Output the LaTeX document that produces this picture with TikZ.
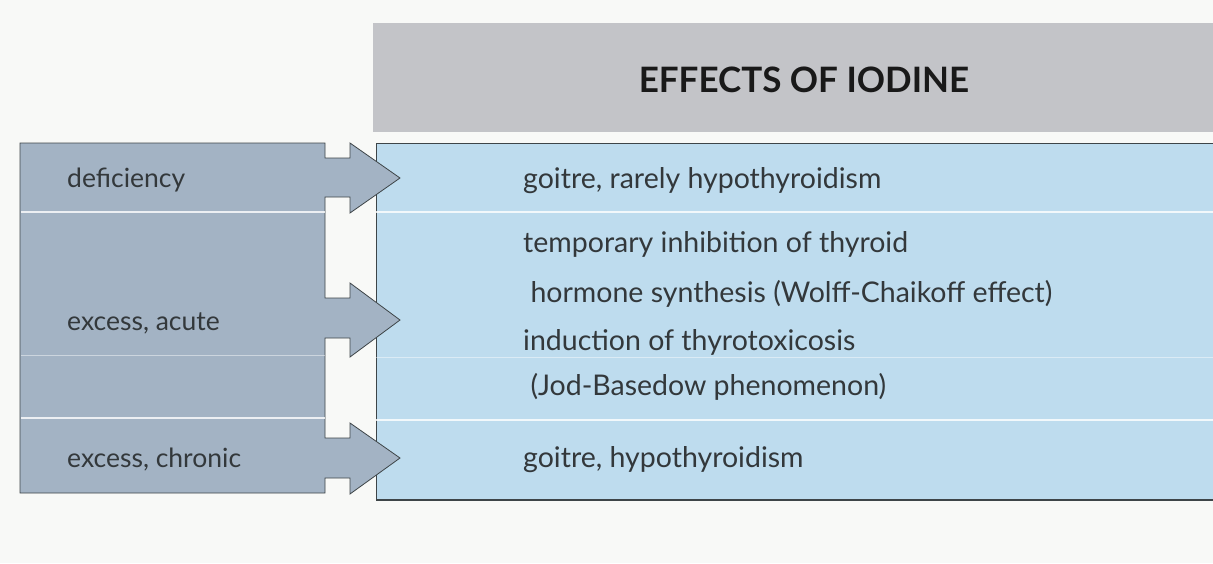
\documentclass[tikz,border=0pt]{standalone}
\usepackage{fontspec}
\setmainfont{Lato}
\definecolor{bgc}{HTML}{F8F9F7}
\definecolor{leftc}{HTML}{A3B3C4}
\definecolor{headc}{HTML}{C3C4C8}
\definecolor{bluec}{HTML}{BEDCEE}
\definecolor{edgec}{HTML}{3E4548}
\definecolor{txtc}{HTML}{33383B}
\tikzset{
  lbl/.style={anchor=base west, inner sep=0pt, text=txtc, font=\fontsize{26.5}{32}\selectfont},
  eff/.style={anchor=base west, inner sep=0pt, text=txtc, font=\fontsize{28.5}{34}\selectfont},
  divider/.style={draw=white, line width=2pt, opacity=0.8},
  fdivider/.style={draw=white, line width=1pt, opacity=0.45},
}
\begin{document}
\begin{tikzpicture}[x=1pt,y=-1pt]
\useasboundingbox (0,0) rectangle (1213,563);
\fill[bgc] (0,0) rectangle (1213,563);
% header
\fill[headc] (373,23) rectangle (1213,132);
\node[inner sep=0pt, text=black!90, font=\fontsize{35}{40}\selectfont\bfseries] (title) at (804,80) {EFFECTS OF IODINE};
% blue box
\fill[bluec] (376,143) rectangle (1213,500);
\draw[edgec, line width=1pt] (1213,143) -- (376,143) -- (376,500);
\draw[edgec, line width=2pt] (376,500) -- (1213,500);
\draw[divider] (376,212) -- (1213,212);
\draw[fdivider] (376,357) -- (1213,357);
\draw[divider] (376,420) -- (1213,420);
% left box with arrows
\coordinate (a1) at (400,178);
\coordinate (a2) at (400,320);
\coordinate (a3) at (400,458);
\filldraw[fill=leftc, draw=edgec, line width=0.8pt, line join=miter]
  (20,143) -- (325,143) -- (325,158) -- (350,158) -- (350,143) -- (a1) -- (350,213) -- (350,197) -- (325,197)
  -- (325,298) -- (350,298) -- (350,283) -- (a2) -- (350,357) -- (350,338) -- (325,338)
  -- (325,438) -- (350,438) -- (350,423) -- (a3) -- (350,494) -- (350,478) -- (325,478)
  -- (325,493) -- (20,493) -- cycle;
\draw[divider] (21,212) -- (325,212);
\draw[fdivider] (21,355) -- (325,355);
\draw[divider] (21,418) -- (325,418);
% labels
\node[lbl] (l1) at (67,187) {deficiency};
\node[lbl] (l2) at (67,330) {excess, acute};
\node[lbl] (l3) at (67,467) {excess, chronic};
% effects
\node[eff] (e1) at (523,188) {goitre, rarely hypothyroidism};
\node[eff] (e2) at (523,252) {temporary inhibition of thyroid};
\node[eff] (e3) at (523,302) {\ hormone synthesis (Wolff-Chaikoff effect)};
\node[eff] (e4) at (523,350) {induction of thyrotoxicosis};
\node[eff] (e5) at (523,395) {\ (Jod-Basedow phenomenon)};
\node[eff] (e6) at (523,467) {goitre, hypothyroidism};
\end{tikzpicture}
\end{document}
